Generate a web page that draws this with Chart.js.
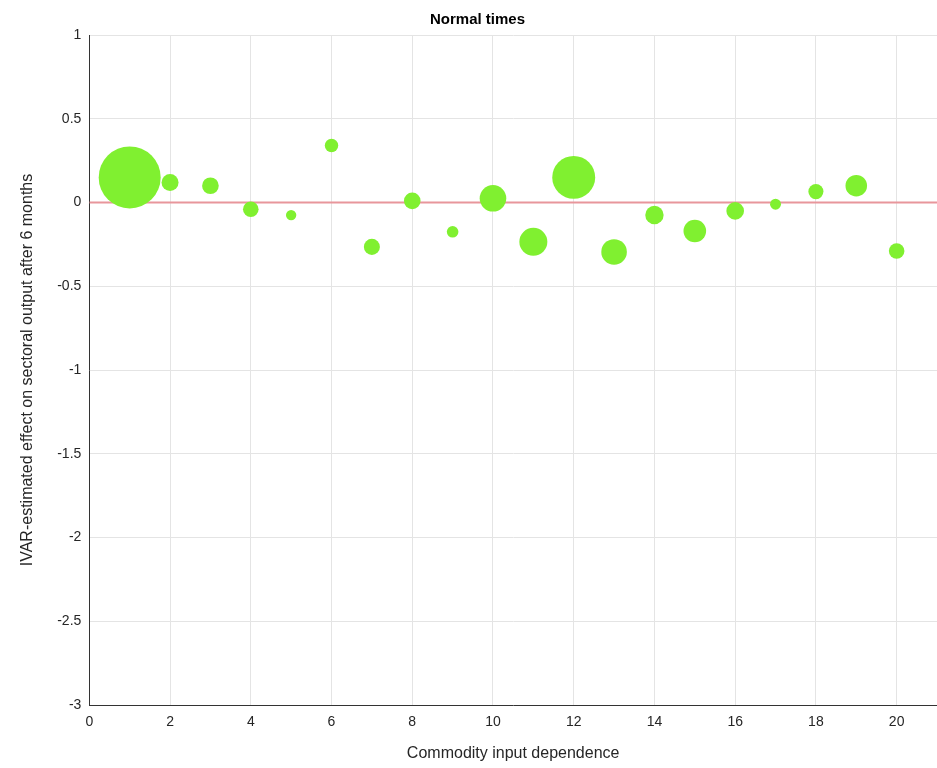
<!DOCTYPE html>
<html>
<head>
<meta charset="utf-8">
<script src="https://cdn.jsdelivr.net/npm/chart.js@4/dist/chart.umd.min.js"></script>
<style>
  html, body { margin: 0; padding: 0; background: #fff; }
  #wrap { width: 937px; height: 768px; }
</style>
</head>
<body>
<div id="wrap"><canvas id="c"></canvas></div>
<script>
// commodity input dependence rank (x), 6-month effect (y), sector weight (bubble size)
const dependence = [1, 2, 3, 4, 5, 6, 7, 8, 9, 10, 11, 12, 13, 14, 15, 16, 17, 18, 19, 20]
const effect = [0.15, 0.12, 0.10, -0.04, -0.075, 0.34, -0.265, 0.01, -0.175, 0.025,
                -0.235, 0.15, -0.295, -0.075, -0.17, -0.05, -0.01, 0.065, 0.10, -0.29]
const weight = [100, 7.5, 7.2, 6.3, 2.8, 4.7, 6.7, 7.2, 3.5, 18.4,
                20.4, 48, 17, 8.8, 13.3, 8.1, 3.1, 5.9, 12.1, 6.3]

const refX = [0, 21]
const refY = [0, 0]

const yTicks = [1, 0.5, 0, -0.5, -1, -1.5, -2, -2.5, -3]

const font = "'Liberation Sans', Arial, Helvetica, sans-serif"

const bubbles = dependence.map((x, i) => ({ x: x, y: effect[i], r: 3.1 * Math.sqrt(weight[i]) }))
const refLine = refX.map((x, i) => ({ x: x, y: refY[i] }))

new Chart(document.getElementById("c"), {
  type: "bubble",
  data: {
    datasets: [
      {
        type: "line",
        data: refLine,
        borderColor: "rgb(232, 150, 155)",
        borderWidth: 2,
        pointRadius: 0,
        order: 2
      },
      {
        data: bubbles,
        backgroundColor: "rgb(128, 240, 48)",
        borderColor: "rgb(128, 240, 48)",
        borderWidth: 0,
        order: 1
      }
    ]
  },
  options: {
    responsive: true,
    maintainAspectRatio: false,
    animation: false,
    layout: { autoPadding: false, padding: { left: 18, right: 0, top: 7, bottom: 5 } },
    plugins: {
      legend: { display: false },
      tooltip: { enabled: false },
      title: {
        display: true,
        text: "Normal times",
        color: "#000",
        font: { family: font, size: 15, weight: "bold" },
        padding: { top: 4, bottom: 6 }
      }
    },
    scales: {
      x: {
        type: "linear",
        min: 0,
        max: 21,
        afterBuildTicks: (axis) => {
          axis.ticks = axis.ticks.filter(t => t.value % 2 === 0)
        },
        ticks: {
          stepSize: 2,
          color: "#262626",
          padding: 9,
          font: { family: font, size: 14 }
        },
        grid: { color: "#e4e4e4", drawTicks: false },
        border: { display: true, color: "#333", width: 1 },
        title: {
          display: true,
          text: "Commodity input dependence",
          color: "#262626",
          font: { family: font, size: 16 },
          padding: { top: 4, bottom: 0 }
        }
      },
      y: {
        type: "linear",
        min: -3,
        max: 1,
        afterBuildTicks: (axis) => {
          axis.ticks = yTicks.map(v => ({ value: v }))
        },
        ticks: {
          color: "#262626",
          padding: 8,
          font: { family: font, size: 14 },
          callback: (v) => String(v)
        },
        grid: { color: "#e4e4e4", drawTicks: false },
        border: { display: true, color: "#333", width: 1 },
        title: {
          display: true,
          text: "IVAR-estimated effect on sectoral output after 6 months",
          color: "#262626",
          font: { family: font, size: 16 },
          padding: { top: 0, bottom: 12 }
        }
      }
    }
  }
})
</script>
</body>
</html>
